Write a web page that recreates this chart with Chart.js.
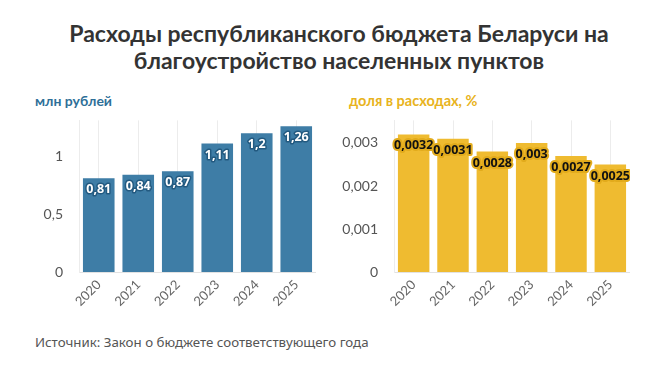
<!DOCTYPE html>
<html>
<head>
<meta charset="utf-8">
<script src="https://cdn.jsdelivr.net/npm/chart.js@4/dist/chart.umd.min.js"></script>
<style>
  body { margin: 0; background: #fff; width: 662px; height: 377px; position: relative; overflow: hidden; }
  .title { position: absolute; left: 8px; width: 662px; top: 20px; text-align: center;
           font: bold 23px Lato, sans-serif; color: #333; line-height: 27px; }
  .sub { position: absolute; top: 92px; font: bold 14px Lato, sans-serif; }
  .src { position: absolute; left: 35px; top: 333px; font: 13.3px "Noto Sans", sans-serif; color: #555; }
  .box { position: absolute; top: 104px; height: 213px; }
</style>
</head>
<body>
<div class="title">Расходы республиканского бюджета Беларуси на<br>благоустройство населенных пунктов</div>
<div class="sub" style="left:35px;color:#2e6f98">млн рублей</div>
<div class="sub" style="left:349px;color:#e8b320;font-size:14.5px">доля в расходах, %</div>
<div class="box" style="left:30px;width:286px"><canvas id="c1"></canvas></div>
<div class="box" style="left:340px;width:290px"><canvas id="c2"></canvas></div>
<div class="src">Источник: Закон о бюджете соответствующего года</div>
<script>
const years = ['2020', '2021', '2022', '2023', '2024', '2025'];
const spending = [0.81, 0.84, 0.87, 1.11, 1.2, 1.26];
const share = [0.0032, 0.0031, 0.0028, 0.003, 0.0027, 0.0025];

const comma = v => String(v).replace('.', ',');

// value labels near the top of each bar
const barLabels = {
  id: 'barLabels',
  afterDatasetsDraw(chart, args, opts) {
    const ctx = chart.ctx;
    const meta = chart.getDatasetMeta(0);
    ctx.save();
    ctx.font = 'bold 12.5px "Open Sans", sans-serif';
    ctx.textAlign = 'center';
    ctx.textBaseline = 'middle';
    ctx.lineJoin = 'round';
    meta.data.forEach((bar, i) => {
      const txt = comma(chart.data.datasets[0].data[i]);
      const y = bar.y + 11.5;
      ctx.lineWidth = opts.haloWidth;
      ctx.strokeStyle = opts.halo;
      ctx.strokeText(txt, bar.x, y);
      ctx.fillStyle = opts.color;
      ctx.fillText(txt, bar.x, y);
    });
    ctx.restore();
  }
};

function makeChart(id, data, color, max, step, yWidth, labelOpts) {
  return new Chart(document.getElementById(id), {
    type: 'bar',
    data: {
      labels: years,
      datasets: [{ data, backgroundColor: color, barPercentage: 0.8, categoryPercentage: 1 }]
    },
    options: {
      responsive: true,
      maintainAspectRatio: false,
      animation: false,
      layout: { padding: 0 },
      plugins: {
        legend: { display: false },
        tooltip: { enabled: false },
        barLabels: labelOpts
      },
      scales: {
        x: {
          grid: { color: '#ececec', offset: false, drawTicks: false },
          border: { color: '#e2e2e2' },
          ticks: { color: '#666', font: { size: 13, family: 'Lato' }, maxRotation: 45, minRotation: 45, padding: 5 },
          afterFit: s => { s.height = 45; }
        },
        y: {
          min: 0, max,
          grid: { display: false },
          border: { color: '#ececec' },
          ticks: { stepSize: step, color: '#555', font: { size: 14, family: 'Lato' }, padding: 8,
                   callback: v => comma(v) },
          // keep only the round steps, drop the top edge value
          afterBuildTicks: s => {
            s.ticks = s.ticks.filter(t => Math.abs(t.value / step - Math.round(t.value / step)) < 1e-6);
          },
          afterFit: s => { s.width = yWidth; }
        }
      }
    },
    plugins: [barLabels]
  });
}

makeChart('c1', spending, '#3e7da6', 1.31, 0.5, 49,
  { color: '#fff', halo: '#235a80', haloWidth: 3 });
makeChart('c2', share, '#efbb30', 0.003525, 0.001, 54,
  { color: '#111', halo: '#e2ab1c', haloWidth: 4 });
</script>
</body>
</html>
